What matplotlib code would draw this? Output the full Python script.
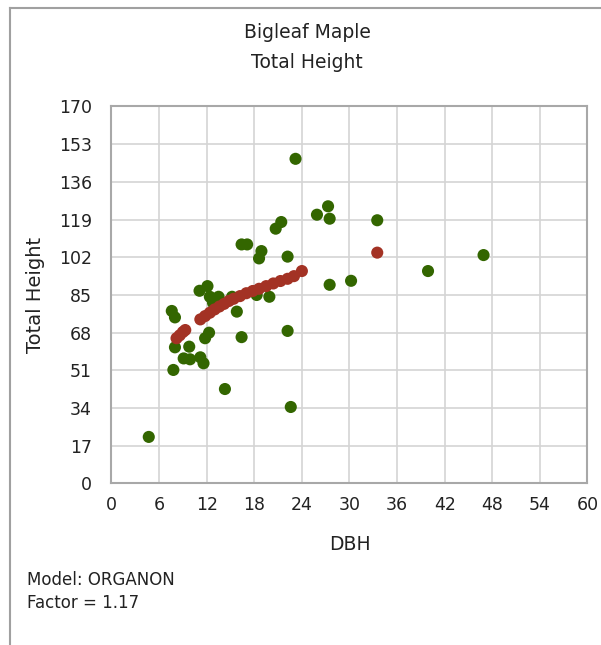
import matplotlib.pyplot as plt
from matplotlib.lines import Line2D

# observed trees (DBH, total height)
obs_dbh = [4.7, 7.6, 8.0, 7.8, 8.0, 9.1, 9.8, 9.9, 11.2, 11.6, 11.8, 12.3,
           11.1, 12.1, 12.4, 13.5, 12.8, 15.2, 15.8, 18.3, 19.9, 16.4, 14.3,
           22.6, 22.2, 16.4, 17.1, 18.6, 18.9, 20.7, 21.4, 22.2, 23.2, 25.9,
           27.3, 27.5, 27.5, 30.2, 33.5, 39.9, 46.9]
obs_ht = [21.0, 77.8, 74.9, 51.2, 61.4, 56.4, 61.7, 56.0, 56.9, 54.2, 65.5, 68.0,
          86.9, 89.0, 84.2, 84.2, 81.5, 84.2, 77.5, 85.0, 84.2, 66.0, 42.6,
          34.5, 68.8, 107.8, 107.8, 101.5, 104.8, 114.9, 117.9, 102.3, 146.4, 121.2,
          125.0, 119.4, 89.6, 91.4, 118.7, 95.8, 103.0]

# model predictions
pred_dbh = [8.2, 8.6, 9.0, 9.3, 11.2, 11.8, 12.4, 13.0, 13.6, 14.2, 14.8, 15.4,
            16.2, 17.0, 17.8, 18.6, 19.5, 20.4, 21.3, 22.2, 23.0, 24.0, 33.5]
pred_ht = [65.5, 66.8, 68.3, 69.2, 74.0, 75.5, 77.0, 78.5, 79.8, 81.0, 82.3, 83.3,
           84.5, 85.8, 86.8, 87.8, 89.0, 90.2, 91.3, 92.3, 93.5, 95.8, 104.1]

x_ticks = list(range(0, 61, 6))
y_ticks = list(range(0, 171, 17))

txt = '#222222'
fig = plt.figure(figsize=(6.01, 6.45), dpi=100)
ax = fig.add_axes([0.1855, 0.2504, 0.792, 0.5845])

ax.scatter(obs_dbh, obs_ht, s=76, color='#336600', edgecolors='none', zorder=3)
ax.scatter(pred_dbh, pred_ht, s=76, color='#a33224', edgecolors='none', zorder=4)

ax.set_xlim(0, 60)
ax.set_ylim(0, 170)
ax.set_xticks(x_ticks)
ax.set_yticks(y_ticks)
ax.tick_params(length=0, labelsize=12.5, colors=txt)
ax.tick_params(axis='y', pad=14)
ax.tick_params(axis='x', pad=9)
ax.grid(True, color='#d4d4d4', linewidth=1.2)
ax.set_axisbelow(True)
for sp in ax.spines.values():
    sp.set_color('#a8a8a8')
    sp.set_linewidth(1.5)

ax.set_xlabel('DBH', fontsize=13.5, color=txt, labelpad=15)
ax.set_ylabel('Total Height', fontsize=14, color=txt, labelpad=10)

fig.text(307 / 601, 1 - 33 / 645, 'Bigleaf Maple', ha='center', va='center',
         fontsize=13.5, color=txt)
fig.text(307 / 601, 1 - 63 / 645, 'Total Height', ha='center', va='center',
         fontsize=13.5, color=txt)
fig.text(27 / 601, 1 - 580 / 645, 'Model: ORGANON', ha='left', va='center',
         fontsize=12, color=txt)
fig.text(27 / 601, 1 - 603 / 645, 'Factor = 1.17', ha='left', va='center',
         fontsize=12, color=txt)

# outer frame (top and left edges visible)
fig.add_artist(Line2D([10 / 601, 1.0], [1 - 8 / 645, 1 - 8 / 645],
                      transform=fig.transFigure, color='#a0a0a0', linewidth=1.5))
fig.add_artist(Line2D([10 / 601, 10 / 601], [0.0, 1 - 8 / 645],
                      transform=fig.transFigure, color='#a0a0a0', linewidth=1.5))

fig.savefig('out.png', dpi=100)
